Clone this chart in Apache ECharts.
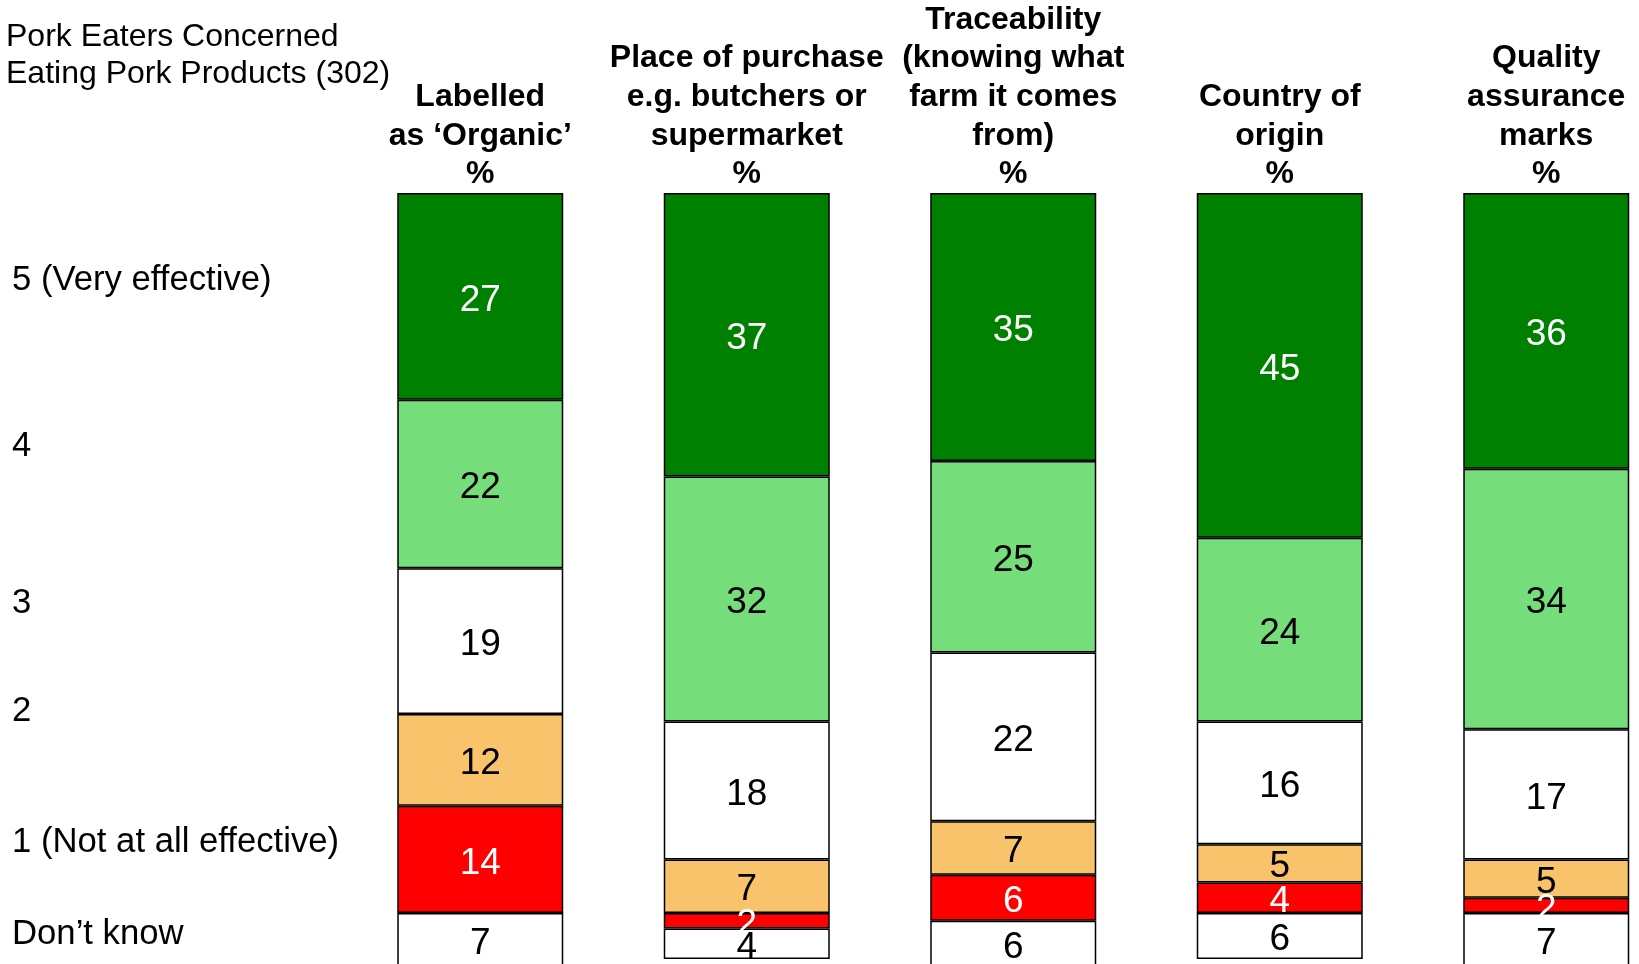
<!DOCTYPE html>
<html>
<head>
<meta charset="utf-8">
<title>Pork Eaters Concerned</title>
<script src="https://cdn.jsdelivr.net/npm/echarts@6/dist/echarts.min.js"></script>
<style>
    html, body { margin: 0; padding: 0; background: #fff; }
    #chart { width: 1639px; height: 964px; }
</style>
</head>
<body>
<div id="chart"></div>
<script>
// 类别（列标题）
const categories = [
    'Labelled\nas \u2018Organic\u2019\n%',
    'Place of purchase\ne.g. butchers or\nsupermarket\n%',
    'Traceability\n(knowing what\nfarm it comes\nfrom)\n%',
    'Country of\norigin\n%',
    'Quality\nassurance\nmarks\n%'
];

// 各评分等级数值（从上到下堆叠）
const veryEffective = [27, 37, 35, 45, 36];
const four = [22, 32, 25, 24, 34];
const three = [19, 18, 22, 16, 17];
const two = [12, 7, 7, 5, 5];
const notAtAll = [14, 2, 6, 4, 2];
const dontKnow = [7, 4, 6, 6, 7];

const levelNames = ['5 (Very effective)', '4', '3', '2', '1 (Not at all effective)', 'Don\u2019t know'];
const levelData = [veryEffective, four, three, two, notAtAll, dontKnow];
const levelColors = ['#008000', '#75DD79', '#FFFFFF', '#F8C36A', '#FF0000', '#FFFFFF'];
const labelColors = ['#FFFFFF', '#000000', '#000000', '#000000', '#FFFFFF', '#000000'];

const FONT = 'Arial, "Liberation Sans", sans-serif';

const chart = echarts.init(document.getElementById('chart'));

const series = levelNames.map(function (name, i) {
    return {
        name: name,
        type: 'bar',
        stack: 'total',
        barWidth: 166,
        data: levelData[i],
        itemStyle: {
            color: levelColors[i],
            borderColor: '#000',
            borderWidth: 1.5
        },
        label: {
            show: true,
            position: 'inside',
            offset: [0, 4],
            color: labelColors[i],
            fontFamily: FONT,
            fontSize: 37
        },
        silent: true
    };
});

// 左侧等级文字
const sideLabels = [
    { text: levelNames[0], y: 280 },
    { text: levelNames[1], y: 446 },
    { text: levelNames[2], y: 603 },
    { text: levelNames[3], y: 711 },
    { text: levelNames[4], y: 842 },
    { text: levelNames[5], y: 934 }
];

const graphic = sideLabels.map(function (s) {
    return {
        type: 'text',
        x: 12,
        y: s.y,
        style: {
            text: s.text,
            font: '34.7px ' + FONT,
            fill: '#000',
            verticalAlign: 'middle'
        }
    };
});
graphic.push({
    type: 'text',
    x: 6,
    y: 37,
    style: {
        text: 'Pork Eaters Concerned',
        font: '32px ' + FONT,
        fill: '#000',
        verticalAlign: 'middle'
    }
});
graphic.push({
    type: 'text',
    x: 6,
    y: 74.5,
    style: {
        text: 'Eating Pork Products (302)',
        font: '32px ' + FONT,
        fill: '#000',
        verticalAlign: 'middle'
    }
});

const option = {
    backgroundColor: '#fff',
    animation: false,
    grid: {
        left: 347,
        top: 193,
        width: 1332.5,
        height: 773.7,
        containLabel: false,
        outerBoundsMode: 'none'
    },
    xAxis: {
        type: 'category',
        position: 'top',
        data: categories,
        axisLine: { show: false },
        axisTick: { show: false },
        axisLabel: {
            interval: 0,
            margin: -1,
            color: '#000',
            fontFamily: FONT,
            fontWeight: 'bold',
            fontSize: 32,
            lineHeight: 38.7,
            align: 'center',
            verticalAlign: 'bottom'
        }
    },
    yAxis: {
        type: 'value',
        inverse: true,
        min: 0,
        max: 101,
        show: false
    },
    series: series,
    graphic: graphic
};

chart.setOption(option);
</script>
</body>
</html>
